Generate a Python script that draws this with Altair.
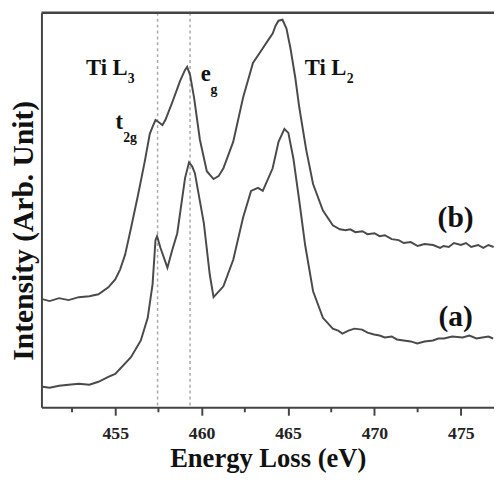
import altair as alt
import pandas as pd

# ---- data (intensity in arbitrary units) ----
energy_b = [450.79, 451.2, 451.75, 452.3, 452.89, 453.5, 454.03, 454.6, 455.0, 455.28, 455.57,
            455.91, 456.31, 456.71, 457.0, 457.16, 457.33, 457.5, 457.73, 457.9, 458.3,
            458.76, 459.04, 459.16, 459.33, 459.56, 459.9, 460.3, 460.69, 460.98, 461.26,
            461.83, 462.4, 462.97, 463.54, 463.88, 464.11, 464.28, 464.45, 464.68, 464.91,
            465.14, 465.42, 465.65, 466.05, 466.45, 467.02, 467.59, 468.0, 468.33, 468.6,
            468.9, 469.3, 469.6, 470.0, 470.3, 470.6, 471.0, 471.4, 471.7, 472.1, 472.5,
            472.9, 473.4, 473.8, 474.0, 474.3, 474.6, 475.0, 475.3, 475.6, 476.0, 476.3,
            476.6, 476.9]
intensity_b = [110, 108, 111, 109, 112, 113, 115, 122, 130, 140, 155,
               182, 215, 250, 278, 285, 292, 290, 287, 292, 310,
               332, 343, 346, 338, 315, 272, 240, 232, 235, 243,
               270, 315, 350, 365, 374, 380, 388, 393, 394, 385,
               365, 335, 305, 262, 227, 200, 185, 181, 180, 181,
               178, 179, 176, 177, 174, 175, 171, 170, 167, 168, 164,
               166, 165, 162, 164, 163, 167, 165, 167, 163, 165, 162,
               165, 163]

energy_a = [450.79, 451.2, 451.75, 452.3, 452.89, 453.5, 454.03, 454.6, 455.0, 455.91, 456.48,
            456.88, 457.16, 457.33, 457.42, 457.62, 458.02, 458.3, 458.59, 459.04, 459.27,
            459.45, 459.61, 460.13, 460.47, 460.69, 461.26, 461.83, 462.4, 462.86, 463.26,
            463.54, 464.11, 464.45, 464.79, 465.02, 465.31, 465.65, 465.99, 466.45, 467.02,
            467.59, 467.9, 468.15, 468.5, 468.84, 469.29, 469.6, 469.98, 470.3, 470.6, 471.0,
            471.3, 471.69, 472.1, 472.48, 472.9, 473.39, 473.7, 474.02, 474.5, 475.1, 475.5,
            475.9, 476.24, 476.6, 476.87]
intensity_a = [21, 20, 22, 23, 24, 23, 26, 31, 34, 51, 68,
               91, 125, 170, 174, 162, 142, 160, 177, 233, 249,
               245, 238, 187, 135, 112, 123, 150, 193, 220, 223,
               220, 243, 270, 283, 279, 253, 210, 165, 118, 91,
               80, 78, 75, 78, 80, 79, 76, 74, 73, 71, 72,
               69, 68, 67, 65, 67, 68, 70, 70, 72, 71, 73,
               70, 71, 72, 70]

peak_lines = [457.45, 459.33]
major_ticks = [455, 460, 465, 470, 475]
minor_ticks = [452.5, 457.5, 462.5, 467.5, 472.5]

label_main = ["Ti L", "e", "t", "Ti L"]
label_main_x = [455.72, 460.24, 455.23, 468.38]
label_main_y = [338, 332, 283, 338]
label_main_align = ["right", "center", "center", "right"]
label_sub = ["3", "g", "2g", "2"]
label_sub_x = [455.72, 460.52, 455.46, 468.40]
label_sub_y = [330, 319, 270, 330]
series_tags = ["(b)", "(a)"]
series_tag_x = [474.7, 474.7]
series_tag_y = [192, 92]

FONT = "Liberation Serif"
INK = "#4a4a4a"
AX = "#444"
XDOM = [450.73, 476.92]
YDOM = [0, 401]
W, H = 460, 401

df = pd.concat([
    pd.DataFrame({"E": energy_b, "I": intensity_b, "s": "b"}),
    pd.DataFrame({"E": energy_a, "I": intensity_a, "s": "a"}),
])

xs = alt.Scale(domain=XDOM, nice=False, zero=False)
ys = alt.Scale(domain=YDOM, nice=False, zero=False)

lines = alt.Chart(df).mark_line(color=INK, strokeWidth=2, clip=True).encode(
    x=alt.X("E:Q", scale=xs, axis=alt.Axis(
        values=major_ticks, format="d", title="Energy Loss (eV)",
        labelFont=FONT, labelFontWeight="bold", labelFontSize=18, labelColor="#222",
        labelPadding=10, tickSize=8, tickWidth=2, tickColor=AX,
        domainColor=AX, domainWidth=2, grid=False,
        titleFont=FONT, titleFontWeight="bold", titleFontSize=27, titleColor="#111",
        titlePadding=3)),
    y=alt.Y("I:Q", scale=ys, axis=alt.Axis(
        ticks=False, labels=False, grid=False, domainColor=AX, domainWidth=2,
        title="Intensity (Arb. Unit)", titleFont=FONT, titleFontWeight="bold",
        titleFontSize=30, titleColor="#111", titlePadding=3, titleY=221)),
    detail="s:N",
)

# top frame: a two-point line along the top of the value range
top_df = pd.DataFrame({"E": XDOM, "I": [YDOM[1], YDOM[1]]})
top = alt.Chart(top_df).mark_line(color=AX, strokeWidth=2.5, clip=False).encode(
    x=alt.X("E:Q", scale=xs), y=alt.Y("I:Q", scale=ys)
)

# minor ticks: short two-point lines hanging below the x axis
minor_rows = []
for k, e in enumerate(minor_ticks):
    minor_rows.append({"E": e, "I": 0, "k": k})
    minor_rows.append({"E": e, "I": -5, "k": k})
minor = alt.Chart(pd.DataFrame(minor_rows)).mark_line(color=AX, strokeWidth=2, clip=False).encode(
    x=alt.X("E:Q", scale=xs), y=alt.Y("I:Q", scale=ys), detail="k:N"
)

vdf = pd.DataFrame({"E": peak_lines})
vlines = alt.Chart(vdf).mark_rule(color="#aaaaaa", strokeWidth=1.5, strokeDash=[3, 3]).encode(
    x=alt.X("E:Q", scale=xs)
)

ldf = pd.DataFrame({"E": label_main_x, "I": label_main_y, "t": label_main, "a": label_main_align})
main_txt = alt.layer(*[
    alt.Chart(ldf[ldf["a"] == al]).mark_text(font=FONT, fontWeight="bold", fontSize=23,
                                             color="#111", align=al, baseline="alphabetic").encode(
        x=alt.X("E:Q", scale=xs), y=alt.Y("I:Q", scale=ys), text="t:N")
    for al in ["right", "center"]
])

sdf = pd.DataFrame({"E": label_sub_x, "I": label_sub_y, "t": label_sub})
sub_txt = alt.Chart(sdf).mark_text(font=FONT, fontWeight="bold", fontSize=14, color="#111",
                                   align="left", baseline="alphabetic").encode(
    x=alt.X("E:Q", scale=xs), y=alt.Y("I:Q", scale=ys), text="t:N")

tdf = pd.DataFrame({"E": series_tag_x, "I": series_tag_y, "t": series_tags})
tag_txt = alt.Chart(tdf).mark_text(font=FONT, fontWeight="bold", fontSize=30, color="#111",
                                   align="center", baseline="middle").encode(
    x=alt.X("E:Q", scale=xs), y=alt.Y("I:Q", scale=ys), text="t:N")

chart = alt.layer(vlines, lines, top, minor, main_txt, sub_txt, tag_txt).properties(
    width=W, height=H,
    autosize=alt.AutoSizeParams(type="none"),
    padding={"left": 34, "top": 1, "right": 0, "bottom": 74},
    background="white",
).configure_view(stroke=None)

chart.save("out.html", embed_options={"renderer": "svg", "actions": False})
